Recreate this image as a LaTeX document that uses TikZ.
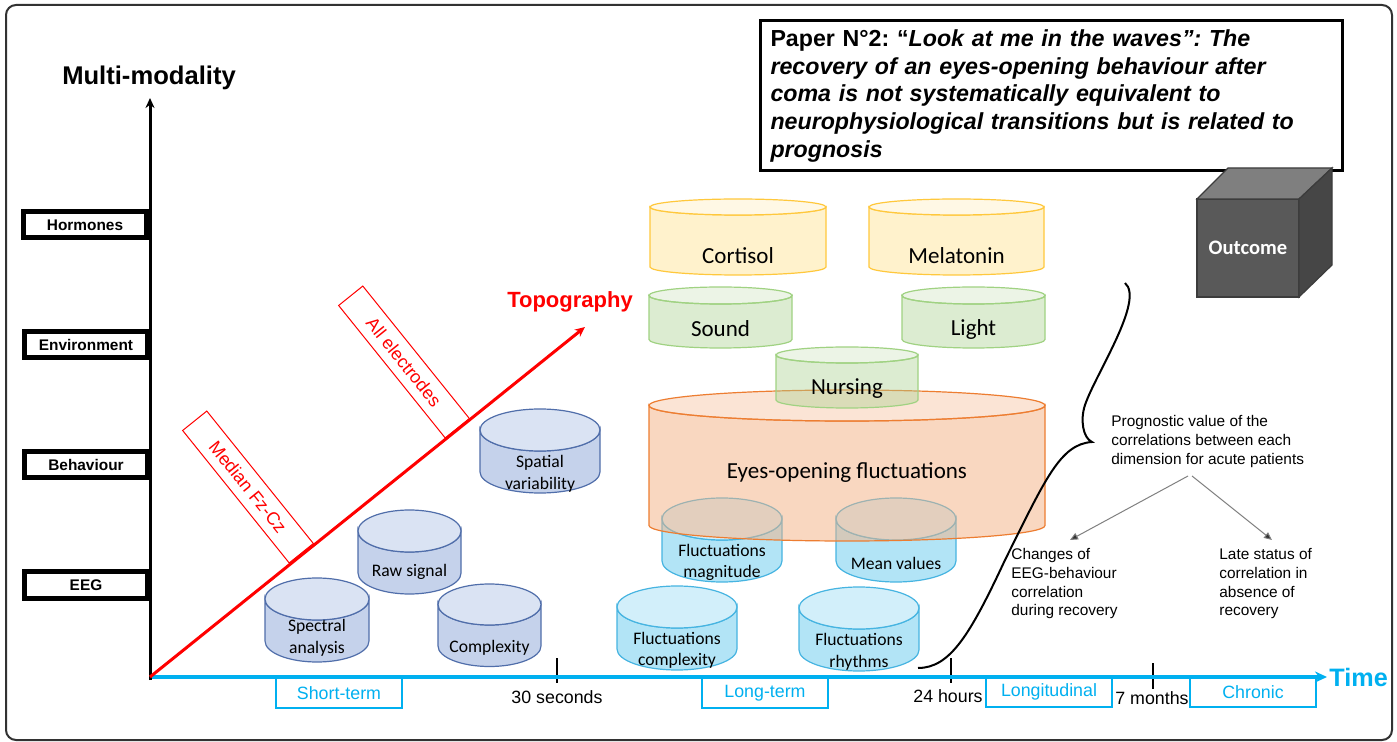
\documentclass[tikz,border=0pt]{standalone}
\usepackage{fontspec}
\setmainfont{Liberation Sans}
\newfontfamily\calfont{Carlito}
\usetikzlibrary{arrows.meta,calc}
\frenchspacing
\definecolor{cyanax}{RGB}{0,176,240}
\definecolor{redax}{RGB}{255,0,0}
\definecolor{eegline}{RGB}{80,110,170}
\definecolor{eegbodyc}{RGB}{197,210,235}
\definecolor{eegtopc}{RGB}{218,227,243}
\definecolor{fluline}{RGB}{70,180,225}
\definecolor{flubodyc}{RGB}{178,228,246}
\definecolor{flutopc}{RGB}{210,239,250}
\definecolor{yelline}{RGB}{255,200,60}
\definecolor{yelbodyc}{RGB}{255,242,204}
\definecolor{yeltopc}{RGB}{255,248,229}
\definecolor{grnline}{RGB}{160,210,130}
\definecolor{grnc}{RGB}{169,209,142}
\definecolor{orgline}{RGB}{237,125,49}
\definecolor{orgbodyc}{RGB}{244,177,131}
\definecolor{orgtopc}{RGB}{248,203,173}
\definecolor{framec}{RGB}{50,50,50}
\newcommand\cylshape[6]{%
  \path[#1body] ({#2-#4},#3) arc[start angle=180,end angle=0,x radius=#4,y radius=#5] -- ({#2+#4},#6) arc[start angle=0,end angle=180,x radius=#4,y radius=#5] -- cycle;
  \path[#1top] (#2,#3) ellipse[x radius=#4,y radius=#5];
}
\begin{document}
\begin{tikzpicture}[x=0.5pt,y=-0.5pt,
  lbl/.style={draw=black, line width=2.5pt, minimum width=61.5pt, minimum height=13pt, inner sep=0pt, font=\bfseries\fontsize{7.7}{9}\selectfont},
  phase/.style={draw=cyanax, line width=0.8pt, minimum width=63pt, minimum height=15pt, inner sep=0pt, text=cyanax, font=\fontsize{8.9}{10}\selectfont},
  ticklbl/.style={font=\fontsize{8.9}{10}\selectfont, inner sep=0pt},
  elec/.style={draw=redax, line width=0.5pt, minimum width=85pt, minimum height=15.5pt, inner sep=0pt, text=redax, font=\fontsize{9}{10}\selectfont, rotate=-51.18},
  cyltxt/.style={font=\calfont\fontsize{8.8}{10.7}\selectfont, align=center, inner sep=0pt},
  cylbig/.style={font=\calfont\fontsize{11.5}{13}\selectfont, inner sep=0pt},
  smalltxt/.style={font=\fontsize{7.7}{9.4}\selectfont, align=left, inner sep=0pt},
  eegbody/.style={draw=eegline, fill=eegbodyc, line width=0.6pt},
  eegtop/.style={draw=eegline, fill=eegtopc, line width=0.6pt},
  flubody/.style={draw=fluline, fill=flubodyc, line width=0.6pt},
  flutop/.style={draw=fluline, fill=flutopc, line width=0.6pt},
  yelbody/.style={draw=yelline, fill=yelbodyc, line width=0.6pt},
  yeltop/.style={draw=yelline, fill=yeltopc, line width=0.6pt},
  grnbody/.style={draw=grnline, fill=grnc, fill opacity=0.4, line width=0.6pt},
  grntop/.style={draw=grnline, fill=grnc, fill opacity=0.22, line width=0.6pt},
  orgbody/.style={draw=orgline, fill=orgbodyc, fill opacity=0.5, line width=0.6pt},
  orgtop/.style={draw=orgline, fill=orgtopc, fill opacity=0.5, line width=0.6pt},
  tickline/.style={draw=black, line width=0.6pt},
  progarrow/.style={draw=gray, line width=0.5pt, -{Triangle[length=4pt,width=3.5pt,fill=black!80]}}
]
\useasboundingbox (0,0) rectangle (1397,742);
\fill[white] (0,0) rectangle (1397,742);
\draw[framec, line width=1pt, rounded corners=5pt] (6,5) rectangle (1392,740);

% axes coordinates
\coordinate (O) at (150,677);
\coordinate (vtip) at (150,98);
\coordinate (htip) at (1327,677);
\coordinate (ttip) at (585,327);

% time axis and phases
\node[phase] (short) at (339,693) {Short-term};
\node[phase] (longterm) at (765,693) {Long-term};
\node[phase] (longi) at (1049,692) {Longitudinal};
\node[phase] (chron) at (1253,692) {Chronic};
\draw[tickline] (557,658) -- (557,683);
\draw[tickline] (951,658) -- (951,683);
\draw[tickline] (1153,663) -- (1153,689);
\node[ticklbl] (t30) at (557,697) {30 seconds};
\node[ticklbl] (t24) at (948,696) {24 hours};
\node[ticklbl] (t7) at (1152,698) {7 months};
\draw[cyanax, line width=2pt, -{Stealth[length=6pt,width=5.5pt]}] (O) -- (htip);
\node[font=\bfseries\fontsize{12.6}{15}\selectfont, text=cyanax, inner sep=0pt, anchor=west] (time) at (1329,677) {Time};

% title box
\node[draw=black, line width=1.5pt, minimum width=290pt, minimum height=75pt, text width=281pt, align=left, inner xsep=5pt, font=\bfseries\fontsize{11.6}{13.9}\selectfont] (title) at (1051.5,96)
 {Paper N°2: “\itshape Look at me in the waves”: The\\ recovery of an eyes-opening behaviour after\\ coma is not systematically equivalent to\\ neurophysiological transitions but is related to\\ prognosis};

% outcome cube
\filldraw[fill={rgb,255:red,89;green,89;blue,89}, draw={rgb,255:red,60;green,60;blue,60}, line width=0.6pt] (1197,199) rectangle (1299,297);
\filldraw[fill={rgb,255:red,127;green,127;blue,127}, draw={rgb,255:red,60;green,60;blue,60}, line width=0.6pt] (1197,199) -- (1228,168) -- (1332,168) -- (1299,199) -- cycle;
\filldraw[fill={rgb,255:red,70;green,70;blue,70}, draw={rgb,255:red,60;green,60;blue,60}, line width=0.6pt] (1299,199) -- (1332,168) -- (1332,265) -- (1299,297) -- cycle;
\node[text=white, font=\calfont\bfseries\fontsize{10.3}{12}\selectfont, inner sep=0pt] (outcome) at (1248,248) {Outcome};

% vertical axis
\draw[black, line width=1.5pt, -{Stealth[length=5pt,width=4.5pt]}] (150,680) -- (vtip);
\node[font=\bfseries\fontsize{12.8}{15}\selectfont, inner sep=0pt] (mm) at (149,78) {Multi-modality};

% left labels
\node[lbl] (horm) at (85,225) {Hormones};
\node[lbl] (env) at (86,345) {Environment};
\node[lbl] (beh) at (86,465) {Behaviour};
\node[lbl] (eeg) at (86,585) {EEG};

% EEG cylinders
\cylshape{eeg}{540}{430}{60}{21}{472}
\cylshape{eeg}{409.5}{531}{51.5}{21}{573}
\cylshape{eeg}{317}{599}{52}{21}{641}
\cylshape{eeg}{489.5}{604.5}{51.5}{20.5}{646}

% fluctuation cylinders
\cylshape{flu}{722}{519}{60}{21}{561}
\cylshape{flu}{896}{519}{60}{21}{561}
\cylshape{flu}{677}{607}{60}{21}{649}
\cylshape{flu}{859}{608}{60}{21}{650}

% hormones / environment
\cylshape{yel}{738}{207}{88}{8}{267}
\cylshape{yel}{956.5}{207}{87.5}{8}{267}
\cylshape{grn}{720.5}{295.5}{71.5}{8.5}{339.5}
\cylshape{grn}{973.5}{295.5}{71.5}{8.5}{339.5}

% eyes-opening
\cylshape{org}{847}{405.5}{198}{15.5}{525.5}
% nursing
\cylshape{grn}{847}{355}{71}{8}{400}

% cylinder texts
\node[cyltxt] (spatial) at (540,474) {Spatial\\variability};
\node[cyltxt] (raw) at (409.5,572) {Raw signal};
\node[cyltxt] (spec) at (317,638) {Spectral\\analysis};
\node[cyltxt] (cmplx) at (489.5,648) {Complexity};
\node[cyltxt] (fmag) at (722,562.5) {Fluctuations\\magnitude};
\node[cyltxt] (mean) at (896,563) {Mean values};
\node[cyltxt] (fcompl) at (677,650.5) {Fluctuations\\complexity};
\node[cyltxt] (frhy) at (859,652) {Fluctuations\\rhythms};
\node[cylbig] (cortisol) at (738,256) {Cortisol};
\node[cylbig] (melatonin) at (956.5,256) {Melatonin};
\node[cylbig] (sound) at (720.5,329) {Sound};
\node[cylbig] (light) at (973.5,329) {Light};
\node[cylbig] (nursing) at (847,389) {Nursing};
\node[cylbig] (eyes) at (847,473) {Eyes-opening fluctuations};

% topography axis
\draw[redax, line width=1.5pt, -{Stealth[length=5pt,width=4.5pt]}] (O) -- (ttip);
\node[font=\bfseries\fontsize{11}{13}\selectfont, text=redax, inner sep=0pt] (topo) at (570,302) {Topography};
\node[elec] (median) at (248,487) {Median Fz-Cz};
\node[elec] (allel) at (404,362) {All electrodes};

% brace
\draw[black, line width=1pt] (1125,283) .. controls (1145,300) and (1095,375) .. (1085,405) .. controls (1080,420) and (1083,438) .. (1092,442) .. controls (1060,444) and (1045,480) .. (1005,560) .. controls (970,635) and (950,668) .. (918,668);

% prognostic texts
\node[smalltxt, anchor=north west] (prog) at (1111,415) {Prognostic value of the\\correlations between each\\dimension for acute patients};
\node[smalltxt, anchor=north west] (chg) at (1011,548) {Changes of\\EEG-behaviour\\correlation\\during recovery};
\node[smalltxt, anchor=north west] (late) at (1219,548) {Late status of\\correlation in\\absence of\\recovery};
\coordinate (s1) at (1188,476);
\coordinate (s2) at (1192,476);
\coordinate (e1) at (1070,540);
\coordinate (e2) at (1272,540);
\draw[progarrow] (s1) -- (e1);
\draw[progarrow] (s2) -- (e2);
\end{tikzpicture}
\end{document}
